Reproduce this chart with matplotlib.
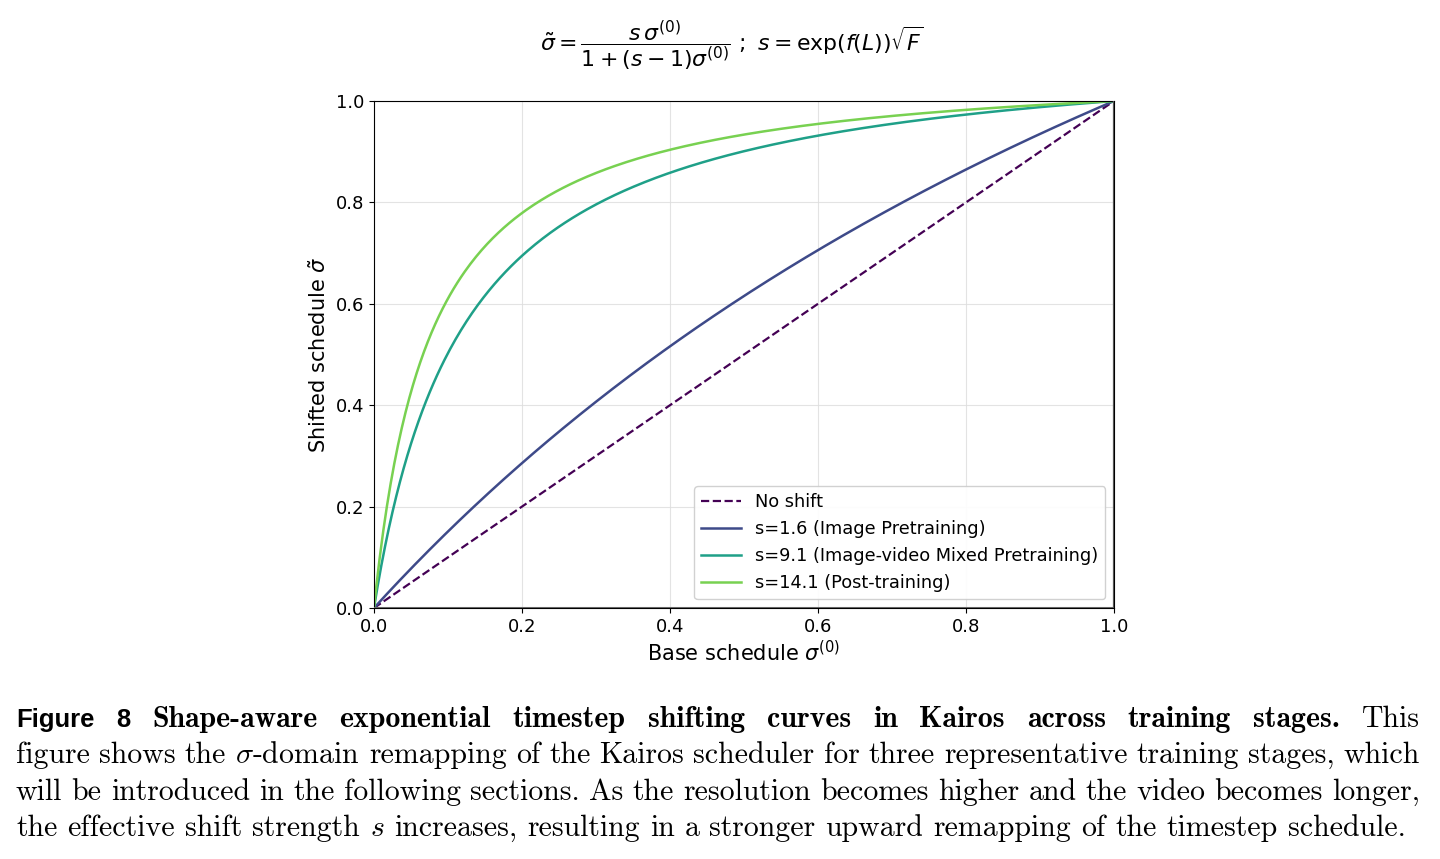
import numpy as np
import matplotlib
matplotlib.use("Agg")
import matplotlib.pyplot as plt

# shift strengths per training stage
shift_values = [1.6, 9.1, 14.1]
stage_names = ["Image Pretraining", "Image-video Mixed Pretraining", "Post-training"]
line_colors = ["#3e4a89", "#1fa088", "#78d151"]
sigma0 = np.linspace(0, 1, 400)

caption_lines = [
    [("Figure", "sb"), ("8", "sb"), ("Shape-aware", "b"), ("exponential", "b"), ("timestep", "b"),
     ("shifting", "b"), ("curves", "b"), ("in", "b"), ("Kairos", "b"), ("across", "b"),
     ("training", "b"), ("stages.", "b"), ("This", "r")],
    "figure shows the $\\sigma$-domain remapping of the Kairos scheduler for three representative training stages, which",
    "will be introduced in the following sections. As the resolution becomes higher and the video becomes longer,",
    "the effective shift strength $s$ increases, resulting in a stronger upward remapping of the timestep schedule.",
]

fig = plt.figure(figsize=(14.4, 8.59), dpi=100)
ax = fig.add_axes([0.2597, 0.2922, 0.5139, 0.5902])

ax.plot(sigma0, sigma0, "--", color="#440154", lw=1.6, label="No shift")
for s, name, c in zip(shift_values, stage_names, line_colors):
    ax.plot(sigma0, s * sigma0 / (1 + (s - 1) * sigma0), color=c, lw=1.8,
            label=f"s={s} ({name})")

ax.axhline(0, color="#666666", lw=2.2, zorder=5)
ax.axvline(1, color="#555555", lw=1.6, zorder=5)
ax.set_xlim(0, 1)
ax.set_ylim(0, 1)
ax.set_xticks(np.arange(0, 1.01, 0.2))
ax.set_yticks(np.arange(0, 1.01, 0.2))
ax.tick_params(labelsize=13)
ax.grid(True, color="#dddddd", lw=0.8, alpha=0.8)
ax.set_xlabel(r"Base schedule $\sigma^{(0)}$", fontsize=15, labelpad=3)
ax.set_ylabel(r"Shifted schedule $\tilde{\sigma}$", fontsize=15)
ax.legend(loc="lower right", fontsize=12.8, handlelength=2.2, framealpha=0.9)

fig.text(0.508, 0.947,
         r"$\tilde{\sigma} = \dfrac{s\,\sigma^{(0)}}{1 + (s-1)\sigma^{(0)}}\ ;\ s = \exp(f(L))\sqrt{F}$",
         ha="center", va="center", fontsize=15.8)

# justified caption (last line left as is)
fig.canvas.draw()
renderer = fig.canvas.get_renderer()
W = fig.bbox.width
H = fig.bbox.height
x_left, x_right = 16, 1420
baselines = [727, 763, 800, 836]
fs = 21.5
styles = {"sb": dict(family="Liberation Sans", weight="bold", fontsize=fs * 0.86),
          "b": dict(family="cmb10", fontsize=fs),
          "r": dict(family="cmr10", fontsize=fs)}

for i, (line, yb) in enumerate(zip(caption_lines, baselines)):
    if isinstance(line, str):
        tokens = [(w, "r") for w in line.split(" ")]
    else:
        tokens = line
    texts = []
    for word, st in tokens:
        t = fig.text(0, 1 - yb / H, word, va="baseline",
                     math_fontfamily="cm", **styles[st])
        texts.append(t)
    widths = [t.get_window_extent(renderer).width for t in texts]
    if i == len(caption_lines) - 1:
        gap = 0.333 * fs * 100 / 72
    else:
        gap = (x_right - x_left - sum(widths)) / (len(texts) - 1)
    x = x_left
    for t, w in zip(texts, widths):
        t.set_x(x / W)
        x += w + gap

fig.savefig("out.png", dpi=100)
